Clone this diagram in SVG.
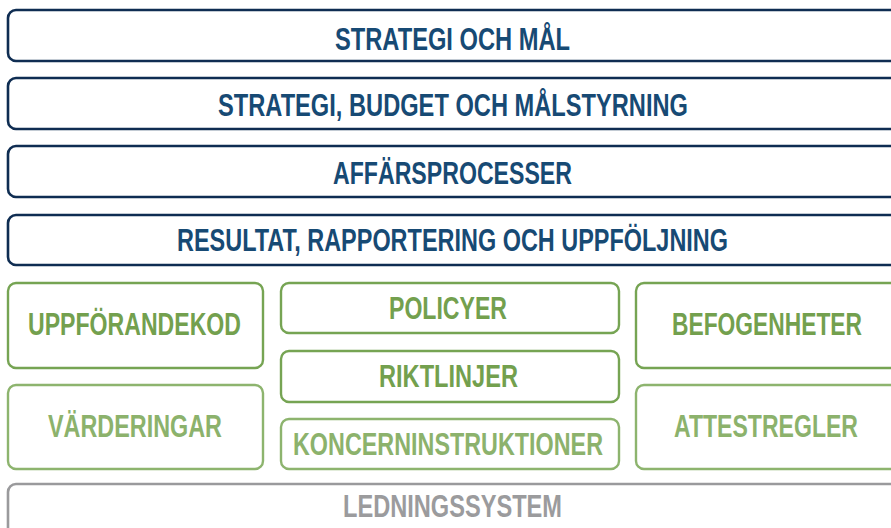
<svg xmlns="http://www.w3.org/2000/svg" width="891" height="528" viewBox="0 0 891 528">
<style>
rect{fill:#fff}
.n rect{stroke:#0f2d52;stroke-width:2.6}
.g rect{stroke:#76a453;stroke-width:2.4}
.gl rect{stroke:#8db46e;stroke-width:2.4}
.s rect{stroke:#9a9a9c;stroke-width:2.6}
text{font-family:"Liberation Sans",Arial,sans-serif;font-weight:bold;font-size:31px}
.n text{fill:#174a74}
.g text{fill:#73a04e}
.gl text{fill:#8cb26c}
.s text{fill:#9b9b9d}
</style>
<rect x="0" y="0" width="891" height="528" fill="#fff"/>
<g id="strategi-och-mal" class="n"><rect x="8" y="10" width="895" height="51" rx="8"/><text x="335" y="50" textLength="235" lengthAdjust="spacingAndGlyphs">STRATEGI OCH MÅL</text></g>
<g id="strategi-budget" class="n"><rect x="8" y="78" width="895" height="51" rx="8"/><text x="218" y="116" textLength="470" lengthAdjust="spacingAndGlyphs">STRATEGI, BUDGET OCH MÅLSTYRNING</text></g>
<g id="affarsprocesser" class="n"><rect x="8" y="146" width="895" height="51" rx="8"/><text x="333" y="184" textLength="239" lengthAdjust="spacingAndGlyphs">AFFÄRSPROCESSER</text></g>
<g id="resultat" class="n"><rect x="8" y="215" width="895" height="50" rx="8"/><text x="177" y="251" textLength="551" lengthAdjust="spacingAndGlyphs">RESULTAT, RAPPORTERING OCH UPPFÖLJNING</text></g>
<g id="uppforandekod" class="g"><rect x="8" y="283" width="255" height="85" rx="8"/><text x="28" y="335" textLength="213" lengthAdjust="spacingAndGlyphs">UPPFÖRANDEKOD</text></g>
<g id="varderingar" class="gl"><rect x="8" y="385" width="255" height="84" rx="8"/><text x="48" y="437" textLength="174" lengthAdjust="spacingAndGlyphs">VÄRDERINGAR</text></g>
<g id="policyer" class="g"><rect x="281" y="283" width="338" height="50" rx="8"/><text x="389" y="319" textLength="118" lengthAdjust="spacingAndGlyphs">POLICYER</text></g>
<g id="riktlinjer" class="g"><rect x="281" y="351" width="338" height="51" rx="8"/><text x="379" y="387" textLength="139" lengthAdjust="spacingAndGlyphs">RIKTLINJER</text></g>
<g id="koncerninstruktioner" class="gl"><rect x="281" y="419" width="338" height="50" rx="8"/><text x="293" y="455" textLength="310" lengthAdjust="spacingAndGlyphs">KONCERNINSTRUKTIONER</text></g>
<g id="befogenheter" class="g"><rect x="636" y="283" width="265" height="85" rx="8"/><text x="672" y="335" textLength="190" lengthAdjust="spacingAndGlyphs">BEFOGENHETER</text></g>
<g id="attestregler" class="gl"><rect x="636" y="385" width="265" height="84" rx="8"/><text x="674" y="437" textLength="184" lengthAdjust="spacingAndGlyphs">ATTESTREGLER</text></g>
<g id="ledningssystem" class="s"><rect x="8" y="484" width="895" height="60" rx="8"/><text x="343" y="517" textLength="219" lengthAdjust="spacingAndGlyphs">LEDNINGSSYSTEM</text></g>
<g id="connectors"/>
</svg>
